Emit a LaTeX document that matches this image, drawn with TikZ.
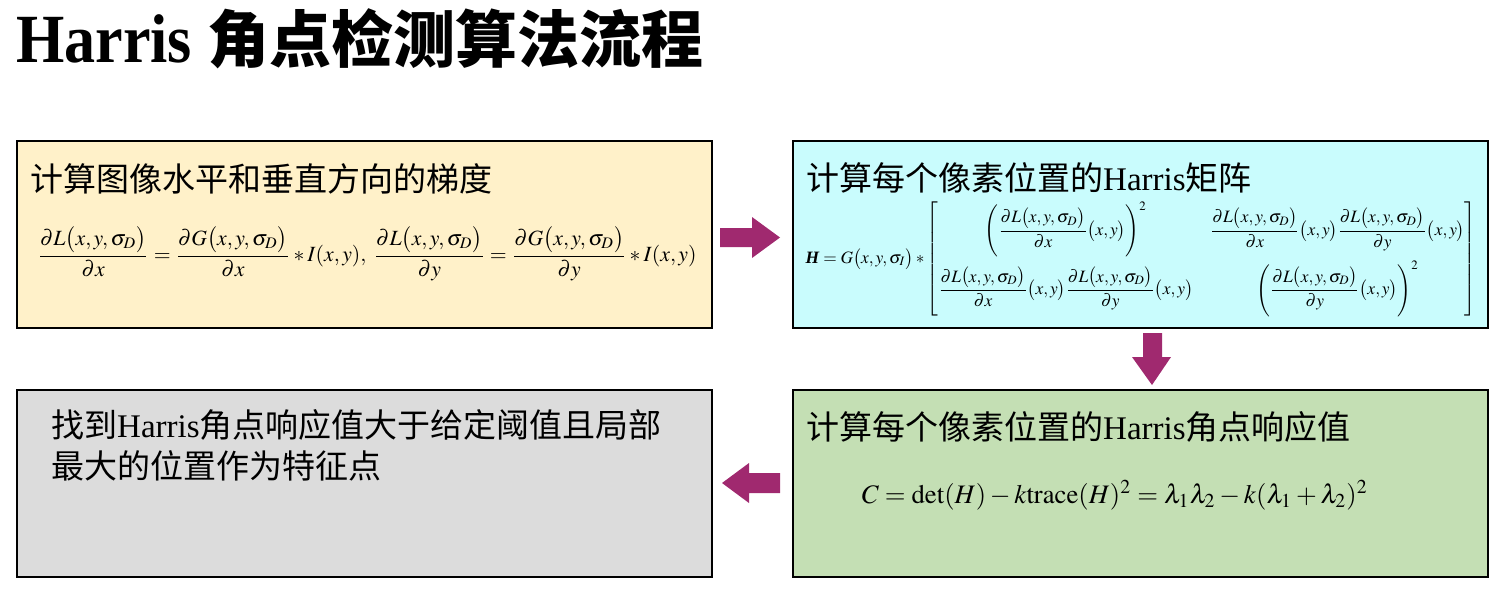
\documentclass[tikz,border=0pt]{standalone}
\usepackage{amsmath}
\usepackage{mathptmx}
\usepackage{graphicx}
\usepackage{fontspec}
\setmainfont{Liberation Serif}
\newfontfamily\cjk{Noto Sans CJK SC}
\newfontfamily\titleserif[FakeStretch=0.9]{Liberation Serif}
\definecolor{orangefill}{HTML}{FFF1C9}
\definecolor{cyanfill}{HTML}{C9FCFD}
\definecolor{greenfill}{HTML}{C4DFB4}
\definecolor{grayfill}{HTML}{DCDCDC}
\definecolor{arrowc}{HTML}{A0296F}
\newcommand{\dL}{\partial L\bigl(x,y,\sigma_D\bigr)}
\newcommand{\dG}{\partial G\bigl(x,y,\sigma_D\bigr)}
\begin{document}
\begin{tikzpicture}[x=1pt,y=-1pt,
  box/.style={draw=black, line width=1.6pt, anchor=north west, inner sep=0pt, minimum width=695pt, minimum height=187pt},
  label/.style={anchor=base west, inner sep=0pt, font=\fontsize{33}{40}\selectfont},
  formula/.style={inner sep=0pt},
  blockarrow/.style={fill=arrowc}]
\useasboundingbox (0,0) rectangle (1506,603);
% title
\node[anchor=base west, inner sep=0pt] (title) at (16,62)
  {{\titleserif\bfseries\fontsize{69}{72}\selectfont Harris }{\cjk\bfseries\fontsize{62}{72}\selectfont 角点检测算法流程}};
% boxes
\node[box, fill=orangefill] (b1) at (16,140) {};
\node[box, fill=cyanfill] (b2) at (792,140) {};
\node[box, fill=greenfill] (b3) at (792,389) {};
\node[box, fill=grayfill] (b4) at (16,389) {};
% labels
\node[label] (t1) at (30,191) {{\cjk 计算图像水平和垂直方向的梯度}};
\node[label] (t2) at (806,190) {{\cjk 计算每个像素位置的}Harris{\cjk 矩阵}};
\node[label] (t3) at (806,439) {{\cjk 计算每个像素位置的}Harris{\cjk 角点响应值}};
\node[label] (t4a) at (51,437) {{\cjk 找到}Harris{\cjk 角点响应值大于给定阈值且局部}};
\node[label] (t4b) at (51,478) {{\cjk 最大的位置作为特征点}};
% formulas
\node[formula] (f1) at (367,254) {\resizebox{659pt}{!}{$\displaystyle
  \frac{\dL}{\partial x}=\frac{\dG}{\partial x}*I(x,y),\;
  \frac{\dL}{\partial y}=\frac{\dG}{\partial y}*I(x,y)$}};
\node[formula] (f2) at (1141,259) {\resizebox{671pt}{!}{$
  \textbf{\textit{H}}=G\bigl(x,y,\sigma_I\bigr)*\left[\begin{matrix}
  \left(\dfrac{\dL}{\partial x}\bigl(x,y\bigr)\right)^{2} & \dfrac{\dL}{\partial x}\bigl(x,y\bigr)\dfrac{\dL}{\partial y}\bigl(x,y\bigr)\\[11pt]
  \dfrac{\dL}{\partial x}\bigl(x,y\bigr)\dfrac{\dL}{\partial y}\bigl(x,y\bigr) & \left(\dfrac{\dL}{\partial y}\bigl(x,y\bigr)\right)^{2}
  \end{matrix}\right]$}};
\node[formula] (f3) at (1115,495) {\resizebox{506pt}{!}{$C=\det(H)-k\mathrm{trace}(H)^{2}=\lambda_1\lambda_2-k(\lambda_1+\lambda_2)^{2}$}};
% block arrows
\fill[blockarrow] (720,228) -- (752,228) -- (752,217) -- (780,237.5) -- (752,258) -- (752,247) -- (720,247) -- cycle;
\fill[blockarrow] (1143,333) -- (1162,333) -- (1162,357) -- (1171,357) -- (1152,385) -- (1132,357) -- (1143,357) -- cycle;
\fill[blockarrow] (780,473) -- (749,473) -- (749,463) -- (722,483) -- (749,503) -- (749,493) -- (780,493) -- cycle;
\end{tikzpicture}
\end{document}
